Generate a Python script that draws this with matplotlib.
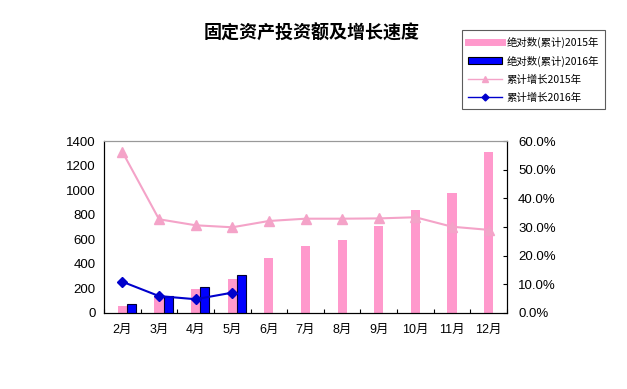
import matplotlib
matplotlib.use("Agg")
import matplotlib.pyplot as plt
from matplotlib.ticker import FuncFormatter, FixedLocator
from matplotlib.lines import Line2D
from matplotlib.patches import Patch
import numpy as np

plt.rcParams['font.family'] = ['Liberation Sans', 'Noto Sans CJK SC', 'DejaVu Sans']

months = ["2月", "3月", "4月", "5月", "6月", "7月", "8月", "9月", "10月", "11月", "12月"]
abs_2015 = [60, 130, 193, 277, 445, 545, 594, 705, 838, 974, 1312]
abs_2016 = [73, 141, 209, 307]
growth_2015 = [56.2, 32.7, 30.6, 29.9, 32.1, 32.9, 32.9, 33.0, 33.4, 30.1, 29.0]
growth_2016 = [10.9, 5.9, 4.8, 7.1]

title = "固定资产投资额及增长速度"
legend_labels = ["绝对数(累计)2015年", "绝对数(累计)2016年", "累计增长2015年", "累计增长2016年"]

pink = "#FF99CC"
pink_line = "#F4A3C8"
blue = "#0000FF"
blue_line = "#0000CC"

fig = plt.figure(figsize=(6.27, 3.89), dpi=100)
ax1 = fig.add_axes([0.166, 0.1954, 0.6426, 0.4421])
ax2 = ax1.twinx()

x = np.arange(len(months))
w = 0.25
ax1.bar(x, abs_2015, width=w, color=pink, edgecolor='none', zorder=2)
x16 = np.arange(len(abs_2016))
ax1.bar(x16 + w, abs_2016, width=w, color=blue, edgecolor='#000033', linewidth=0.8, zorder=3)

ax1.set_xlim(-0.5, len(months) - 0.5)
ax1.set_ylim(0, 1400)
ax1.set_yticks(range(0, 1401, 200))
ax1.set_xticks(x)
ax1.set_xticklabels(months, fontsize=9)
ax1.xaxis.set_minor_locator(FixedLocator(np.arange(-0.5, len(months), 1.0)))
ax1.tick_params(axis='x', which='major', length=0, pad=8)
ax1.tick_params(axis='x', which='minor', direction='in', length=3, width=0.8)
ax1.tick_params(axis='y', direction='in', length=0, labelsize=9.5, pad=6)

ax2.plot(x, growth_2015, color=pink_line, linewidth=1.5, marker='^', markersize=6.5,
         markerfacecolor=pink_line, markeredgecolor=pink_line, zorder=4)
ax2.plot(x16, growth_2016, color=blue_line, linewidth=1.5, marker='D', markersize=5,
         markerfacecolor=blue_line, markeredgecolor=blue_line, zorder=5)
ax2.set_ylim(0, 60)
ax2.set_yticks(range(0, 61, 10))
ax2.yaxis.set_major_formatter(FuncFormatter(lambda v, p: f"{v:.1f}%"))
ax2.tick_params(axis='y', direction='in', length=3, width=0.8, labelsize=9.5, pad=8)

for ax in (ax1, ax2):
    ax.spines['top'].set_color('#999999')
    ax.spines['top'].set_linewidth(0.8)
    for s in ('left', 'right', 'bottom'):
        ax.spines[s].set_color('black')
        ax.spines[s].set_linewidth(0.8)

fig.text(0.497, 0.915, title, ha='center', va='center', fontsize=13, fontweight='bold',
         family=['Noto Sans CJK SC', 'DejaVu Sans'])

handles = [
    Line2D([0], [0], color=pink, linewidth=5),
    Patch(facecolor=blue, edgecolor='black', linewidth=0.8),
    Line2D([0], [0], color=pink_line, linewidth=1, marker='^', markersize=4),
    Line2D([0], [0], color=blue_line, linewidth=1, marker='D', markersize=3.5),
]
leg = fig.legend(handles, legend_labels, loc='upper left', bbox_to_anchor=(0.728, 0.936),
                 fontsize=7.5, frameon=True, fancybox=False, edgecolor='#333333',
                 handlelength=3.3, handletextpad=0.4, borderpad=0.6, labelspacing=0.75,
                 prop={'family': ['Noto Sans CJK SC', 'DejaVu Sans'], 'size': 7.5})
leg.get_frame().set_linewidth(0.8)

fig.savefig("out.png", dpi=100, facecolor='white')
